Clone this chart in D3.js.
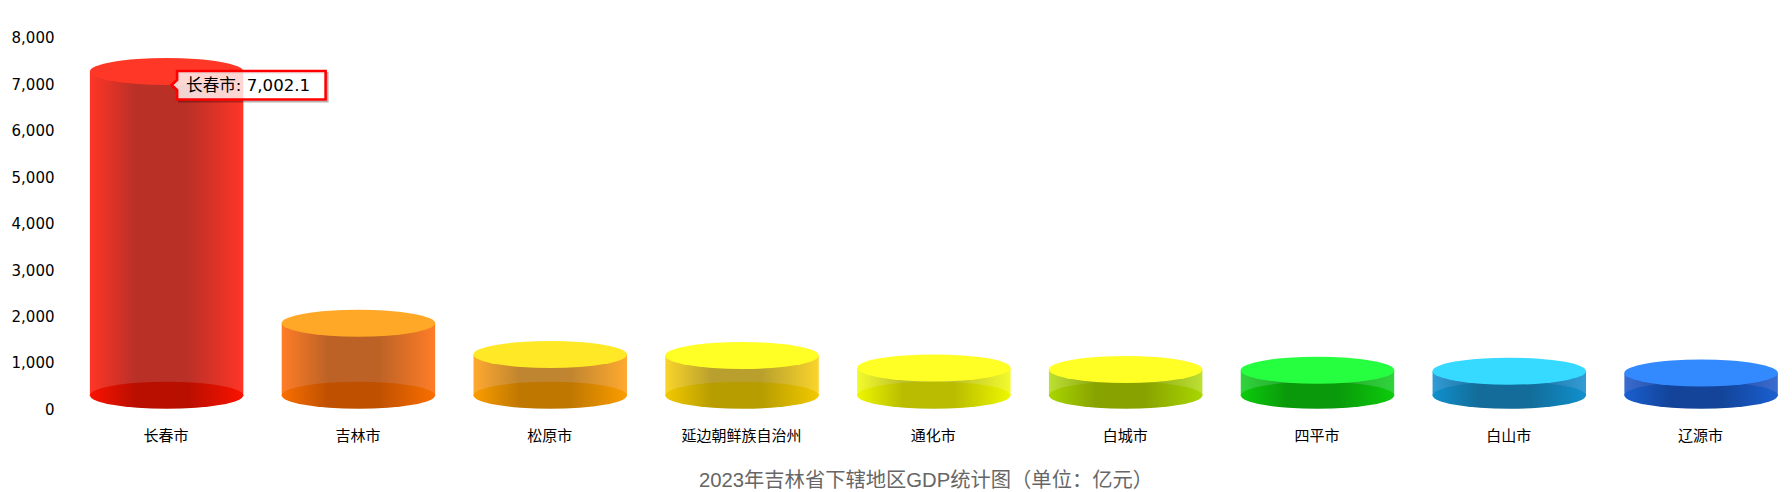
<!DOCTYPE html>
<html><head><meta charset="utf-8">
<script src="https://cdn.jsdelivr.net/npm/d3@7"></script>
<style>html,body{margin:0;padding:0;background:#fff;overflow:hidden}svg{display:block}</style>
</head><body><svg id="c" width="1792" height="492"></svg>
<script>
const categories = ["长春市","吉林市","松原市","延边朝鲜族自治州","通化市","白城市","四平市","白山市","辽源市"];
const values = [7002.1,1583,909,887,620,585,570,550,512];
const yTicks = [0,1000,2000,3000,4000,5000,6000,7000,8000];
const topColors = ["#ff3727","#ffa726","#ffe926","#ffff26","#ffff26","#ffff26","#26ff3f","#36d9ff","#338aff"];
const sideEdge = ["#ff3527","#ff7d27","#ffa92f","#fad52a","#f2fb2b","#bde032","#30d43c","#329cd5","#3a6cd0"];
const sideDark = ["#b93027","#bc6226","#c08530","#b9a02e","#bcc02b","#8da812","#25a82f","#1d709f","#204a9e"];
const baseEdge = ["#fa1200","#f96f00","#fb9d00","#f2c900","#eef700","#a9d600","#0ccc0c","#1090cc","#1a5fd0"];
const baseDark = ["#b80f00","#bf5000","#bf7700","#b89d00","#b9bc00","#88a300","#0a990a","#136c99","#134499"];
const titleText = "2023年吉林省下辖地区GDP统计图（单位：亿元）";

const svg = d3.select("#c");
const latin = "'DejaVu Sans','Noto Sans CJK SC',sans-serif";
const x = d3.scaleBand().domain(categories).range([70.7,1797]).padding(0);
const y = d3.scaleLinear().domain([0,8000]).range([408.5,37]);
const rx = x.bandwidth()*0.4, ry = 13.5, topShift = 11.8, baseY = y(0)-13.2;
const fmt = d3.format(",");

const defs = svg.append("defs");
function grad(id,edge,dark){
  const g = defs.append("linearGradient").attr("id",id).attr("x1",0).attr("x2",1).attr("y1",0).attr("y2",0);
  [[0,edge],[0.3,dark],[0.63,dark],[1,edge]].forEach(s=>g.append("stop").attr("offset",s[0]).attr("stop-color",s[1]));
}
categories.forEach((c,i)=>{grad("side"+i,sideEdge[i],sideDark[i]);grad("base"+i,baseEdge[i],baseDark[i]);});

const rows = categories.map((c,i)=>({c,i,v:values[i]}));
const marks = svg.append("g").selectAll("g").data(rows).join("g");
const cx = d=>x(d.c)+x.bandwidth()/2;
marks.append("rect").attr("x",d=>cx(d)-rx).attr("width",rx*2)
  .attr("y",d=>y(d.v)-topShift).attr("height",d=>baseY-(y(d.v)-topShift))
  .attr("fill",d=>`url(#side${d.i})`);
marks.append("ellipse").attr("cx",cx).attr("cy",baseY).attr("rx",rx).attr("ry",ry)
  .attr("fill",d=>`url(#base${d.i})`);
marks.append("ellipse").attr("cx",cx).attr("cy",d=>y(d.v)-topShift).attr("rx",rx).attr("ry",ry)
  .attr("fill",d=>topColors[d.i]);

const yAxis = d3.axisLeft(y).tickValues(yTicks).tickFormat(fmt).tickSize(0).tickPadding(0);
const ga = svg.append("g").attr("transform","translate(54.5,1)").call(yAxis);
ga.select(".domain").remove();
ga.selectAll("text").attr("font-family",latin).attr("font-size",15).attr("fill","#000");

const xAxis = d3.axisBottom(x).tickSize(0).tickPadding(0);
const gx = svg.append("g").attr("transform","translate(-0.5,430)").call(xAxis);
gx.select(".domain").remove();
gx.selectAll("text").attr("font-family","'Noto Sans CJK SC',sans-serif").attr("font-size",15).attr("fill","#000");

svg.append("text").attr("x",926).attr("y",487).attr("text-anchor","middle")
  .attr("font-family","'Liberation Sans','Noto Sans CJK SC',sans-serif").attr("font-size",20.3).attr("fill","#666").text(titleText);

// tooltip for the first category
const t = rows[0];
const bx = cx(t)+10.5, w = 148.5, h = 28.5, my = y(t.v)+1.7, by = my-14;
const tipPath = d3.path();
tipPath.moveTo(bx,by);tipPath.lineTo(bx+w,by);tipPath.lineTo(bx+w,by+h);tipPath.lineTo(bx,by+h);
tipPath.lineTo(bx,my+5);tipPath.lineTo(bx-5.5,my);tipPath.lineTo(bx,my-5);tipPath.closePath();
svg.append("path").attr("d",tipPath.toString()).attr("transform","translate(2,2)").attr("fill","none").attr("stroke","#000").attr("stroke-opacity",0.3).attr("stroke-width",2);
svg.append("path").attr("d",tipPath.toString()).attr("fill","#fff").attr("fill-opacity",0.8).attr("stroke","#ff0000").attr("stroke-width",2.6);
svg.append("text").attr("x",bx+9).attr("y",my+6).attr("font-family",latin).attr("font-size",16.6).attr("fill","#000")
  .text(t.c+": "+d3.format(",.1f")(t.v));
</script></body></html>
